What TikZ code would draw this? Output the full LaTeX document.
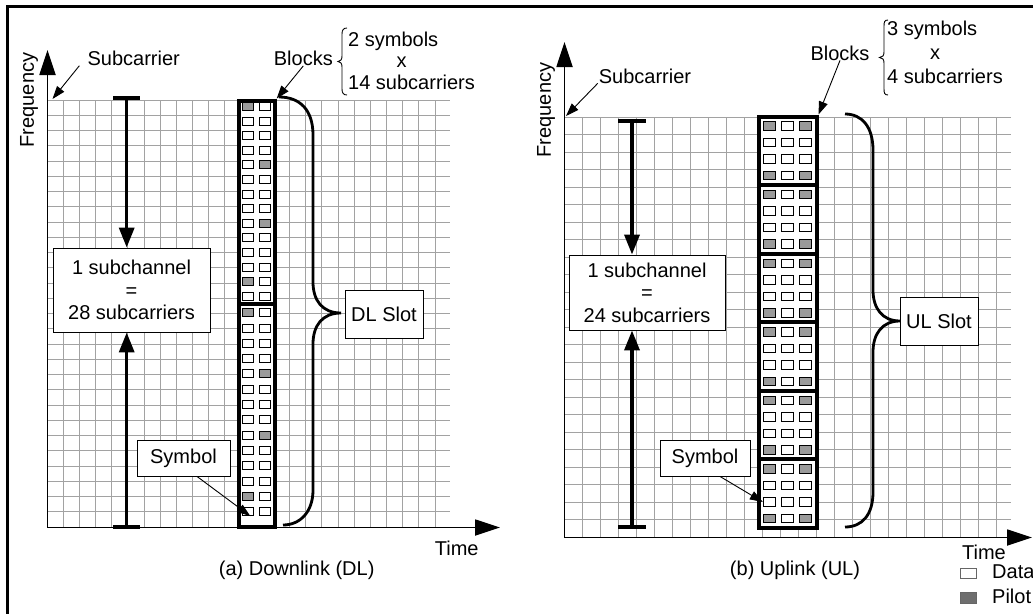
\documentclass[tikz,border=0pt]{standalone}
\usepackage{fontspec}
\setmainfont{Liberation Sans}
\usetikzlibrary{arrows.meta}
\definecolor{gridc}{HTML}{A2A2A2}
\definecolor{pilotc}{HTML}{9A9A9A}
\definecolor{legpilot}{HTML}{6E6E6E}
\begin{document}
\begin{tikzpicture}[x=1pt,y=-1pt,
  font=\fontsize{20}{22.5}\selectfont,
  gridline/.style={draw=gridc,line width=1.2pt},
  axisarrow/.style={line width=1.8pt,-{Triangle[length=25pt,width=16pt]}},
  barline/.style={line width=3.5pt},
  beamarrow/.style={line width=3.5pt,-{Triangle[length=20pt,width=15pt]}},
  pointer/.style={line width=0.9pt,-{Triangle[length=13pt,width=9pt]}},
  labelbox/.style={draw,line width=0.9pt,fill=white,align=center,inner sep=0pt},
  txt/.style={inner sep=0pt},
  colframe/.style={draw,line width=4pt,fill=white,inner sep=0pt},
  divider/.style={line width=4pt},
  datasq/.style={draw=black,line width=0.9pt,fill=white,inner sep=0pt,minimum width=11pt,minimum height=8pt},
  pilotsq/.style={datasq,fill=pilotc},
  rdatasq/.style={datasq,minimum width=12pt,minimum height=8.5pt},
  rpilotsq/.style={rdatasq,fill=pilotc},
  bigbrace/.style={line width=2.8pt},
  smallbrace/.style={line width=0.9pt},
]
\path[use as bounding box] (0,0) rectangle (1033,613);
\clip (0,0) rectangle (1033,613);
\draw[line width=3pt] (7,640) -- (7,6) -- (1060,6);

% ---------------- left panel: grid ----------------
\foreach \i in {0,...,24}{
  \pgfmathsetmacro{\gx}{floor(47+16.17*\i)+0.5}
  \draw[gridline] (\gx,100) -- (\gx,527);
}
\foreach \j in {0,...,28}{
  \pgfmathsetmacro{\gy}{floor(100+15.25*\j)+0.5}
  \draw[gridline] (47,\gy) -- (450,\gy);
}
% ---------------- right panel: grid ----------------
\foreach \i in {0,...,24}{
  \pgfmathsetmacro{\gx}{floor(564+18*\i)+0.5}
  \draw[gridline] (\gx,117.3) -- (\gx,537.3);
}
\foreach \j in {0,...,24}{
  \pgfmathsetmacro{\gy}{floor(117.3+17.5*\j)+0.5}
  \draw[gridline] (564,\gy) -- (1011,\gy);
}

% axes
\coordinate (o1) at (47.5,527.5); \coordinate (f1) at (47.5,50); \coordinate (t1) at (500,527.5);
\draw[axisarrow] (o1) -- (f1);
\draw[axisarrow] (o1) -- (t1);
\coordinate (o2) at (564.5,537.5); \coordinate (f2) at (564.5,42); \coordinate (t2) at (1032,537.5);
\draw[axisarrow] (o2) -- (f2);
\draw[axisarrow] (o2) -- (t2);

% axis labels
\node[txt,rotate=90] (fr1) at (29,100) {Frequency};
\node[txt,rotate=90] (fr2) at (546,110) {Frequency};
\node[txt,anchor=base] (time1) at (456.7,555) {Time};
\node[txt,anchor=base] (time2) at (984,559) {Time};
\node[txt,anchor=base] (cap1) at (296.7,575) {(a) Downlink (DL)};
\node[txt,anchor=base] (cap2) at (795,575) {(b) Uplink (UL)};

% ---------------- left column (DL slot) ----------------
\node[colframe,minimum width=35.7pt,minimum height=426.5pt] (col1) at (256.85,313.75) {};
\draw[divider] (239,304) -- (274.7,304);
\foreach \b/\ys/\pp in {1/106.5/14.6,2/312.7/15.3}{
  \foreach \r in {1,...,14}{
    \foreach \c/\xx in {1/248.3,2/265.3}{
      \pgfmathtruncatemacro{\pil}{((\c==1)&&((\r==1)||(\r==13)))||((\c==2)&&((\r==5)||(\r==9)))}
      \ifnum\pil=1
        \node[pilotsq] (L-\b-\r-\c) at (\xx,{\ys+\pp*(\r-1)}) {};
      \else
        \node[datasq] (L-\b-\r-\c) at (\xx,{\ys+\pp*(\r-1)}) {};
      \fi
    }
  }
}

% ---------------- right column (UL slot) ----------------
\node[colframe,minimum width=57.2pt,minimum height=411.5pt] (col2) at (787.9,322.25) {};
\foreach \k in {1,...,5} \draw[divider] (759.3,{116.5+68.58*\k}) -- (816.5,{116.5+68.58*\k});
\foreach \b in {1,...,6}{
  \foreach \r in {1,...,4}{
    \foreach \c/\xx in {1/769.3,2/787.7,3/805.7}{
      \pgfmathtruncatemacro{\pil}{((\r==1)||(\r==4))&&((\c==1)||(\c==3))}
      \ifnum\pil=1
        \node[rpilotsq] (R-\b-\r-\c) at (\xx,{116.5+68.58*(\b-1)+9.6+16.5*(\r-1)}) {};
      \else
        \node[rdatasq] (R-\b-\r-\c) at (\xx,{116.5+68.58*(\b-1)+9.6+16.5*(\r-1)}) {};
      \fi
    }
  }
}

% ---------------- subchannel I-beams ----------------
\node[labelbox,minimum width=157pt,minimum height=84pt] (sc1) at (131.5,290) {1 subchannel\\=\\28 subcarriers};
\coordinate (ib1t) at (126.7,98); \coordinate (ib1b) at (126.7,527);
\draw[barline] (113,98) -- (140,98);
\draw[barline] (113,527) -- (140,527);
\draw[beamarrow] (ib1t) -- (ib1t |- sc1.north);
\draw[beamarrow] (ib1b) -- (ib1b |- sc1.south);

\node[labelbox,minimum width=156pt,minimum height=75pt] (sc2) at (647,292.5) {1 subchannel\\=\\24 subcarriers};
\coordinate (ib2t) at (632,121); \coordinate (ib2b) at (632,527);
\draw[barline] (618,121) -- (646,121);
\draw[barline] (618,527) -- (646,527);
\draw[beamarrow] (ib2t) -- (ib2t |- sc2.north);
\draw[beamarrow] (ib2b) -- (ib2b |- sc2.south);

% ---------------- slot braces ----------------
\draw[bigbrace] (279,97) .. controls (300,97) and (313,110) .. (313,135) -- (313,282)
  .. controls (313,300) and (322,313) .. (341,313)
  .. controls (322,313) and (313,326) .. (313,344) -- (313,490)
  .. controls (313,512) and (300,525) .. (283,525);
\node[labelbox,minimum width=78pt,minimum height=48pt] (dls) at (384,314) {DL Slot};

\draw[bigbrace] (845,114) .. controls (862,114) and (873,127) .. (873,150) -- (873,290)
  .. controls (873,308) and (882,321) .. (900,321)
  .. controls (882,321) and (873,334) .. (873,352) -- (873,492)
  .. controls (873,515) and (862,527) .. (845,527);
\node[labelbox,minimum width=78pt,minimum height=48pt] (uls) at (939,321) {UL Slot};

% ---------------- subcarrier pointers ----------------
\node[txt,anchor=base] (sub1) at (133.7,65.3) {Subcarrier};
\coordinate (g1c) at (52.5,99);
\draw[pointer] ([xshift=-8pt]sub1.south west) -- (g1c);
\node[txt,anchor=base] (sub2) at (645,83) {Subcarrier};
\coordinate (g2c) at (566,116);
\draw[pointer] ([xshift=-1pt]sub2.south west) -- (g2c);

% ---------------- blocks labels ----------------
\node[txt,anchor=base] (blk1) at (303.3,65.5) {Blocks};
\draw[pointer] (blk1.south) -- (col1.north east);
\draw[smallbrace] (347,28) .. controls (343.5,28) and (342,30) .. (342,34) -- (342,56)
  .. controls (342,59.5) and (340.5,61.5) .. (338,61.5)
  .. controls (340.5,61.5) and (342,63.5) .. (342,67) -- (342,89)
  .. controls (342,93) and (343.5,95) .. (347,95);
\node[txt,anchor=base west] (bl1a) at (348,46) {2 symbols};
\node[txt,anchor=base] (bl1b) at (401.7,67.7) {x};
\node[txt,anchor=base west] (bl1c) at (348,89.3) {14 subcarriers};

\node[txt,anchor=base] (blk2) at (840,60) {Blocks};
\draw[pointer] (blk2.south) -- (col2.north east);
\draw[smallbrace] (888,20) .. controls (884.5,20) and (884,22) .. (884,26) -- (884,52)
  .. controls (884,55.5) and (882.5,57.5) .. (879.5,57.5)
  .. controls (882.5,57.5) and (884,59.5) .. (884,63) -- (884,89)
  .. controls (884,93) and (884.5,95) .. (888,95);
\node[txt,anchor=base west] (bl2a) at (887,35) {3 symbols};
\node[txt,anchor=base] (bl2b) at (935,59) {x};
\node[txt,anchor=base west] (bl2c) at (887,83) {4 subcarriers};

% ---------------- symbol pointers ----------------
\node[labelbox,minimum width=93pt,minimum height=36pt] (sym1) at (183.5,458) {Symbol};
\draw[pointer] ([xshift=13.5pt]sym1.south) -- ([xshift=2pt]L-2-14-1.south);
\node[labelbox,minimum width=90pt,minimum height=36pt] (sym2) at (705,458) {Symbol};
\draw[pointer] ([xshift=15pt]sym2.south) -- (R-6-3-1.west);

% ---------------- legend ----------------
\node[draw=black!60,line width=0.9pt,fill=white,minimum width=16.7pt,minimum height=10pt,inner sep=0pt] (legd) at (968.3,573.3) {};
\node[txt,anchor=base west] (legdt) at (992,578) {Data};
\node[draw=black!60,line width=0.9pt,fill=legpilot,minimum width=16.7pt,minimum height=11pt,inner sep=0pt] (legp) at (968.3,597.5) {};
\node[txt,anchor=base west] (legpt) at (992,603) {Pilot};
\end{tikzpicture}
\end{document}
